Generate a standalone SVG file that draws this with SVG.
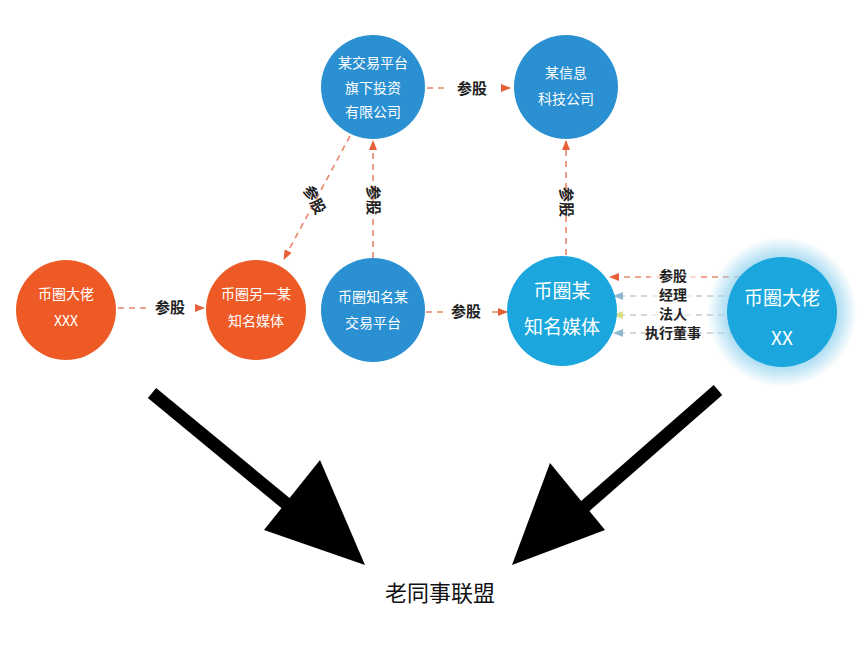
<svg xmlns="http://www.w3.org/2000/svg" width="864" height="648" viewBox="0 0 864 648">
<style>
text{font-family:"Noto Sans CJK SC","Liberation Sans",sans-serif;text-anchor:middle}
.w{fill:#fff;font-size:14px}
.wl{fill:#fff;font-size:19px}
.l{fill:#222;font-size:15px;font-weight:bold}
.s{fill:#222;font-size:14px;font-weight:bold}
.d{stroke:#e8866a;stroke-width:1.6;stroke-dasharray:6 5;fill:none}
.g{stroke:#c8c8c8;stroke-width:1.6;stroke-dasharray:6 5;fill:none}
</style>
<defs>
<marker id="ao" markerWidth="10" markerHeight="8" refX="9" refY="4" orient="auto" markerUnits="userSpaceOnUse"><path d="M0,0L10,4L0,8z" fill="#e8603a"/></marker>
<marker id="ab" markerWidth="10" markerHeight="8" refX="9" refY="4" orient="auto" markerUnits="userSpaceOnUse"><path d="M0,0L10,4L0,8z" fill="#8fb8d0"/></marker>
<marker id="ay" markerWidth="10" markerHeight="8" refX="9" refY="4" orient="auto" markerUnits="userSpaceOnUse"><path d="M0,0L10,4L0,8z" fill="#d6e08a"/></marker>
<radialGradient id="glow"><stop offset="0.75" stop-color="#9fd8f0" stop-opacity="0.8"/><stop offset="1" stop-color="#9fd8f0" stop-opacity="0"/></radialGradient>
</defs>
<rect width="864" height="648" fill="#fff"/>
<g id="connectors">
<line class="d" x1="427" y1="88" x2="510" y2="88" marker-end="url(#ao)"/>
<line class="d" x1="350" y1="136" x2="284" y2="259" marker-end="url(#ao)"/>
<line class="d" x1="373" y1="258" x2="373" y2="141" marker-end="url(#ao)"/>
<line class="d" x1="566" y1="255" x2="566" y2="141" marker-end="url(#ao)"/>
<line class="d" x1="118" y1="308" x2="204" y2="308" marker-end="url(#ao)"/>
<line class="d" x1="426" y1="312" x2="507" y2="312" marker-end="url(#ao)"/>
<line class="d" x1="740" y1="277" x2="610" y2="277" marker-end="url(#ao)"/>
<line class="g" x1="735" y1="296" x2="614" y2="296" marker-end="url(#ab)"/>
<line class="g" x1="735" y1="315" x2="614" y2="315" marker-end="url(#ay)"/>
<line class="g" x1="735" y1="333" x2="614" y2="333" marker-end="url(#ab)"/>
<rect x="445" y="76" width="56" height="24" fill="#fff"/><text class="l" x="472" y="94">参股</text>
<rect x="148" y="296" width="44" height="24" fill="#fff"/><text class="l" x="170" y="313">参股</text>
<rect x="444" y="300" width="44" height="24" fill="#fff"/><text class="l" x="466" y="317">参股</text>
<text class="l" transform="translate(314,200) rotate(62)" y="5">参股</text>
<text class="l" transform="translate(373,200) rotate(90)" y="5">参股</text>
<text class="l" transform="translate(566,202) rotate(90)" y="5">参股</text>
<rect x="650" y="268" width="46" height="72" fill="#fff" opacity="0.6"/>
<text class="s" x="673" y="281">参股</text>
<text class="s" x="673" y="300">经理</text>
<text class="s" x="673" y="319">法人</text>
<text class="s" x="673" y="338">执行董事</text>
<line x1="152" y1="393" x2="300" y2="515" stroke="#000" stroke-width="13"/>
<polygon points="365,565 264,530 320,460" fill="#000"/>
<line x1="718" y1="390" x2="575" y2="515" stroke="#000" stroke-width="13"/>
<polygon points="512,565 550,463 605,530" fill="#000"/>
</g>
<g id="n1"><circle cx="373" cy="87" r="52" fill="#2a90d2"/><text class="w" x="373" y="68">某交易平台</text><text class="w" x="373" y="93">旗下投资</text><text class="w" x="373" y="117">有限公司</text></g>
<g id="n2"><circle cx="566" cy="87" r="52" fill="#2a90d2"/><text class="w" x="566" y="78">某信息</text><text class="w" x="566" y="104">科技公司</text></g>
<g id="n3"><circle cx="66" cy="310" r="50" fill="#ee5a26"/><text class="w" x="66" y="299">币圈大佬</text><text class="w" x="66" y="326">XXX</text></g>
<g id="n4"><circle cx="256" cy="310" r="50" fill="#ee5a26"/><text class="w" x="256" y="299">币圈另一某</text><text class="w" x="256" y="326">知名媒体</text></g>
<g id="n5"><circle cx="373" cy="310" r="52" fill="#2a90d2"/><text class="w" x="373" y="302">币圈知名某</text><text class="w" x="373" y="328">交易平台</text></g>
<g id="n6"><circle cx="562" cy="311" r="55" fill="#1ba7dd"/><text class="wl" x="562" y="298">币圈某</text><text class="wl" x="562" y="334">知名媒体</text></g>
<g id="n7"><circle cx="782" cy="312" r="75" fill="url(#glow)"/><circle cx="782" cy="312" r="55" fill="#1ba7dd"/><text class="wl" x="782" y="305">币圈大佬</text><text class="wl" x="782" y="345">XX</text></g>
<text x="440" y="601" style="font-size:22px;fill:#111">老同事联盟</text>
</svg>
